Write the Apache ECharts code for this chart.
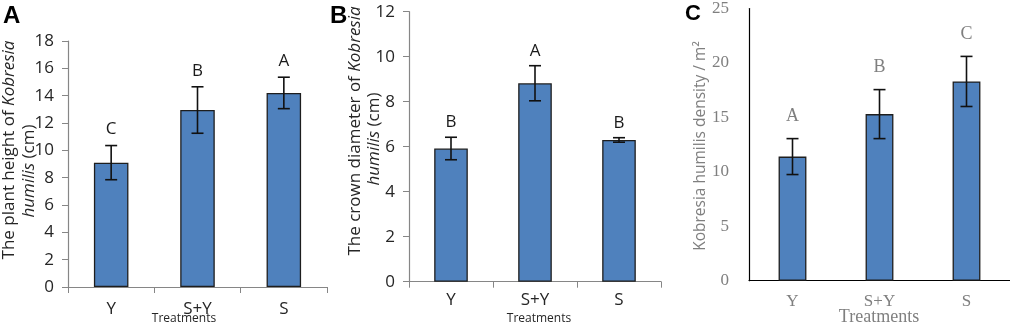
<!DOCTYPE html>
<html><head><meta charset="utf-8">
<script src="https://cdn.jsdelivr.net/npm/echarts@6/dist/echarts.min.js"></script>
<style>html,body{margin:0;padding:0;background:#fff}#c{width:1010px;height:324px}</style>
</head><body><div id="c"></div>
<script>
const categories = ['Y', 'S+Y', 'S'];
// Panel A: plant height (cm)
const heightMean = [9.1, 12.95, 14.2];
const heightErr = [1.25, 1.7, 1.15];
const heightLetters = ['C', 'B', 'A'];
const heightTicks = [0, 18, 2];
// Panel B: crown diameter (cm)
const crownMean = [5.92, 8.82, 6.3];
const crownErr = [0.5, 0.78, 0.1];
const crownLetters = ['B', 'A', 'B'];
const crownTicks = [0, 12, 2];
// Panel C: density / m2
const densityMean = [11.4, 15.3, 18.3];
const densityErr = [1.65, 2.25, 2.3];
const densityLetters = ['A', 'B', 'C'];
const densityTicks = [0, 25, 5];

const SANS = '"Open Sans", "Noto Sans", sans-serif';
const SERIF = '"Liberation Serif", "DejaVu Serif", serif';
const chart = echarts.init(document.getElementById('c'), null, {renderer: 'canvas'});

const panels = [
  {mean: heightMean, err: heightErr, letters: heightLetters, ticks: heightTicks,
   grid: {left: 68, top: 41, width: 259, height: 246}, barWidth: '40%', letterGap: 16,
   font: SANS, labelColor: '#262626', letterColor: '#1a1a1a', axisColor: '#868686', ticksOn: true, fs: 17, letterFs: 17, xfs: 17, xMargin: 14},
  {mean: crownMean, err: crownErr, letters: crownLetters, ticks: crownTicks,
   grid: {left: 409, top: 11.7, width: 252, height: 270}, barWidth: '40%', letterGap: 15,
   font: SANS, labelColor: '#262626', letterColor: '#1a1a1a', axisColor: '#868686', ticksOn: true, fs: 17, letterFs: 17, xfs: 17, xMargin: 10},
  {mean: densityMean, err: densityErr, letters: densityLetters, ticks: densityTicks,
   grid: {left: 749, top: 6.7, width: 261, height: 274}, barWidth: '32%', letterGap: 22,
   font: SERIF, labelColor: '#7f7f7f', letterColor: '#7f7f7f', axisColor: '#000', ticksOn: false, fs: 17, letterFs: 18, xfs: 17, xMargin: 12}
];

const grid = [], xAxis = [], yAxis = [], series = [];
panels.forEach((p, i) => {
  grid.push(Object.assign({containLabel: false}, p.grid));
  xAxis.push({type: 'category', gridIndex: i, data: categories,
    axisLine: {lineStyle: {color: p.axisColor, width: 1.2}},
    axisTick: {show: p.ticksOn, length: 6, lineStyle: {color: p.axisColor}, alignWithLabel: false},
    axisLabel: {color: p.labelColor, fontFamily: p.font, fontSize: p.xfs, margin: p.xMargin}});
  yAxis.push({type: 'value', gridIndex: i, min: p.ticks[0], max: p.ticks[1], interval: p.ticks[2],
    splitLine: {show: false},
    axisLine: {show: true, lineStyle: {color: p.axisColor, width: 1.2}},
    axisTick: {show: p.ticksOn, length: 6, lineStyle: {color: p.axisColor}},
    axisLabel: {color: p.labelColor, fontFamily: p.font, fontSize: p.fs, margin: p.ticksOn ? 14 : 20}});
  series.push({type: 'bar', xAxisIndex: i, yAxisIndex: i, data: p.mean, barWidth: p.barWidth,
    itemStyle: {color: '#4f81bd', borderColor: '#1e1e1e', borderWidth: 1.3}, silent: true});
  series.push({type: 'custom', xAxisIndex: i, yAxisIndex: i, silent: true, z: 5,
    data: p.mean.map((m, k) => [k, m, p.err[k]]),
    renderItem: (params, api) => {
      const idx = api.value(0), m = api.value(1), e = api.value(2);
      const lt = p.letters[params.dataIndex];
      const top = api.coord([idx, m + e]), bot = api.coord([idx, m - e]);
      const hw = 6;
      const ls = {stroke: '#111', lineWidth: 1.6};
      return {type: 'group', children: [
        {type: 'line', shape: {x1: top[0], y1: top[1], x2: bot[0], y2: bot[1]}, style: ls},
        {type: 'line', shape: {x1: top[0] - hw, y1: top[1], x2: top[0] + hw, y2: top[1]}, style: ls},
        {type: 'line', shape: {x1: bot[0] - hw, y1: bot[1], x2: bot[0] + hw, y2: bot[1]}, style: ls},
        {type: 'text', x: top[0], y: top[1] - p.letterGap,
         style: {text: lt, fill: p.letterColor, font: p.letterFs + 'px ' + p.font, textAlign: 'center', textVerticalAlign: 'middle'}}
      ]};
    }});
});

function vtext(x, y, text, rich, color, font) {
  return {type: 'text', x: x, y: y, rotation: Math.PI / 2,
    style: {text: text, fill: color, font: font, textAlign: 'center', textVerticalAlign: 'middle', rich: rich}};
}
const italic = (sz, col) => ({i: {fontStyle: 'italic', fontSize: sz, fontFamily: SANS, fill: col, color: col}, n: {fontSize: sz, fontFamily: SANS, fill: col, color: col}});

chart.setOption({
  animation: false,
  grid, xAxis, yAxis, series,
  graphic: [
    {type: 'text', left: 3, top: 4, style: {text: 'A', font: 'bold 24px "Liberation Sans", Arial, sans-serif', fill: '#000'}},
    {type: 'text', left: 330, top: 4, style: {text: 'B', font: 'bold 24px "Liberation Sans", Arial, sans-serif', fill: '#000'}},
    {type: 'text', left: 685, top: 3, style: {text: 'C', font: 'bold 22px "Liberation Sans", Arial, sans-serif', fill: '#000'}},
    vtext(9, 150, '{n|The plant height of }{i|Kobresia}', italic(17, '#262626'), '#262626', '17px ' + SANS),
    vtext(29, 171, '{i|humilis}{n| (cm)}', italic(17, '#262626'), '#262626', '17px ' + SANS),
    vtext(355, 131, '{n|The crown diameter of }{i|Kobresia}', italic(17, '#262626'), '#262626', '17px ' + SANS),
    vtext(374, 139, '{i|humilis}{n| (cm)}', italic(17, '#262626'), '#262626', '17px ' + SANS),
    vtext(701, 146, '{n|Kobresia humilis density / m²}', italic(15.5, '#7f7f7f'), '#7f7f7f', '15.5px ' + SANS),
    {type: 'text', x: 184, y: 319, style: {text: 'Treatments', font: '12px ' + SANS, fill: '#262626', textAlign: 'center', textVerticalAlign: 'middle'}},
    {type: 'text', x: 539, y: 319, style: {text: 'Treatments', font: '12px ' + SANS, fill: '#262626', textAlign: 'center', textVerticalAlign: 'middle'}},
    {type: 'text', x: 879, y: 317, style: {text: 'Treatments', font: '18px ' + SERIF, fill: '#7f7f7f', textAlign: 'center', textVerticalAlign: 'middle'}}
  ]
});
</script></body></html>
